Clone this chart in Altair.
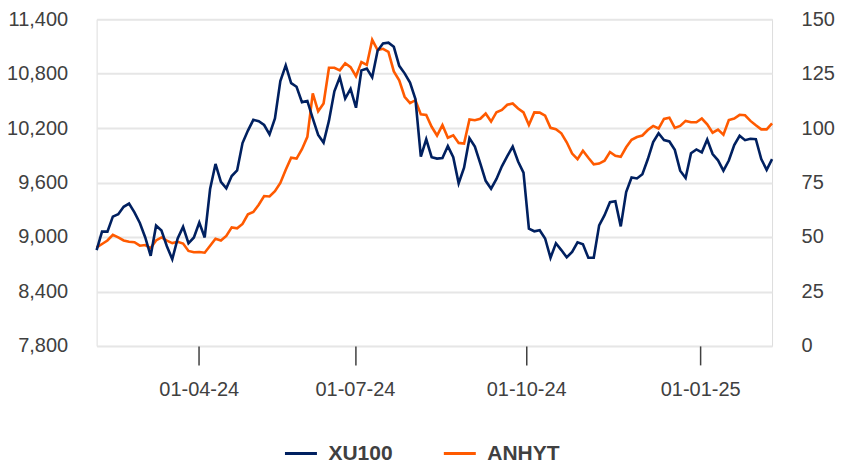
import altair as alt
import pandas as pd

# Sampled every second trading day (Feb 2024 - Feb 2025)
xu100 = [8856, 9059, 9059, 9224, 9251, 9333, 9368, 9272, 9155, 8995, 8792, 9125, 9071, 8899, 8755,
         8984, 9112, 8931, 8995, 9160, 8995, 9528, 9805, 9608, 9536, 9672, 9733, 10035, 10173, 10291,
         10275, 10234, 10131, 10307, 10717, 10891, 10696, 10655, 10486, 10499, 10307, 10125, 10040,
         10282, 10605, 10760, 10525, 10632, 10424, 10836, 10855, 10759, 11053, 11132, 11142, 11096,
         10886, 10803, 10701, 10520, 9885, 10077, 9880, 9864, 9869, 10002, 9880, 9592, 9763, 10088,
         9997, 9811, 9619, 9532, 9640, 9779, 9891, 9997, 9832, 9709, 9091, 9063, 9075, 8984, 8771,
         8931, 8856, 8776, 8835, 8941, 8920, 8771, 8771, 9128, 9240, 9384, 9395, 9117, 9496, 9656,
         9645, 9691, 9856, 10045, 10143, 10069, 10053, 9960, 9731, 9651, 9923, 9965, 9933, 10075,
         9914, 9845, 9731, 9843, 10013, 10115, 10067, 10083, 10077, 9859, 9741, 9859]

anhyt = [45.2, 46.8, 48.4, 51.0, 49.8, 48.4, 47.8, 47.6, 46.0, 46.3, 44.9, 48.4, 49.8, 48.3, 47.2,
         47.8, 47.0, 43.6, 43.0, 43.1, 42.8, 46.0, 49.2, 48.4, 50.5, 54.4, 54.0, 56.0, 60.4, 61.5,
         64.8, 68.8, 68.6, 71.0, 74.8, 80.9, 86.4, 86.0, 90.3, 96.0, 115.9, 107.7, 111.3, 127.7,
         127.7, 126.5, 129.8, 128.0, 123.8, 130.3, 129.0, 140.5, 135.8, 136.4, 135.0, 126.0, 121.9,
         114.4, 111.5, 112.8, 106.3, 106.0, 100.6, 96.6, 101.4, 95.6, 96.7, 93.2, 92.9, 104.0, 103.6,
         104.3, 106.7, 103.0, 107.3, 108.3, 110.7, 111.3, 109.0, 107.2, 101.4, 107.2, 107.1, 105.7,
         100.1, 99.5, 97.6, 93.5, 88.3, 85.7, 89.6, 86.4, 83.4, 83.7, 85.0, 89.0, 87.3, 86.8, 91.2,
         94.6, 95.9, 96.6, 99.1, 101.0, 99.8, 104.2, 104.8, 100.1, 101.0, 103.3, 102.7, 102.7, 104.4,
         101.7, 97.9, 99.3, 97.0, 103.7, 104.4, 106.1, 105.9, 103.3, 101.3, 99.4, 99.4, 102.2]

tick_positions = [18.9, 47.8, 79.5, 111.7]
tick_labels = ["01-04-24", "01-07-24", "01-10-24", "01-01-25"]
left_ticks = [7800, 8400, 9000, 9600, 10200, 10800, 11400]
right_ticks = [0, 25, 50, 75, 100, 125, 150]
series_names = ["XU100", "ANHYT"]
series_colors = ["#002060", "#FF5A00"]

FONT = "Liberation Sans"
TXT = "#404040"

rows = []
for i, v in enumerate(xu100):
    rows.append({"t": i, "value": v, "series": "XU100"})
for i, v in enumerate(anhyt):
    rows.append({"t": i, "value": v, "series": "ANHYT"})
df = pd.DataFrame(rows)

# label expression from tick positions/labels
expr = "'" + tick_labels[-1] + "'"
for k in range(len(tick_positions) - 2, -1, -1):
    mid = (tick_positions[k] + tick_positions[k + 1]) / 2
    expr = f"datum.value < {mid} ? '{tick_labels[k]}' : ({expr})"

n = max(len(xu100), len(anhyt)) - 1

x_enc = alt.X(
    "t:Q",
    scale=alt.Scale(domain=[0, n], nice=False, zero=False),
    axis=alt.Axis(values=tick_positions, labelExpr=expr, title=None, grid=False, domain=False,
                  ticks=True, tickSize=19, tickWidth=1.5, tickColor=TXT, labelPadding=15,
                  labelFontSize=20, labelColor=TXT, labelFont=FONT, labelFlush=False,
                  labelOverlap=False),
)

color_enc = alt.Color(
    "series:N",
    scale=alt.Scale(domain=series_names, range=series_colors),
    legend=alt.Legend(orient="none", legendX=187, legendY=417, direction="horizontal", title=None,
                      symbolType="stroke", symbolSize=1024, symbolStrokeWidth=3,
                      labelFontSize=21, labelFontWeight="bold", labelColor=TXT, labelFont=FONT,
                      labelOffset=10, columnPadding=44, padding=0),
)

right = alt.Chart(df).transform_filter(alt.datum.series == "ANHYT").mark_line(strokeWidth=2.6).encode(
    x=x_enc,
    y=alt.Y("value:Q", scale=alt.Scale(domain=[0, 150], nice=False, zero=False),
            axis=alt.Axis(orient="right", values=right_ticks, title=None, ticks=False, domain=False,
                          grid=False, labelPadding=29, labelFontSize=20, labelColor=TXT,
                          labelFont=FONT)),
    color=color_enc,
)

left = alt.Chart(df).transform_filter(alt.datum.series == "XU100").mark_line(strokeWidth=2.6).encode(
    x=x_enc,
    y=alt.Y("value:Q", scale=alt.Scale(domain=[7800, 11400], nice=False, zero=False),
            axis=alt.Axis(orient="left", values=left_ticks, format=",.0f", title=None, ticks=False,
                          domain=False, grid=True, gridColor="#E6E6E6", gridWidth=2,
                          labelPadding=29, labelFontSize=20, labelColor=TXT, labelFont=FONT)),
    color=color_enc,
)

chart = alt.layer(right, left).resolve_scale(y="independent").properties(
    width=676, height=327,
    padding={"left": 88.7, "top": 11, "right": 70, "bottom": 125},
    autosize=alt.AutoSizeParams(type="none"),
).configure_view(stroke="#E6E6E6", strokeWidth=2).configure(background="white")

chart.save("out.html", embed_options={"renderer": "svg", "actions": False})
